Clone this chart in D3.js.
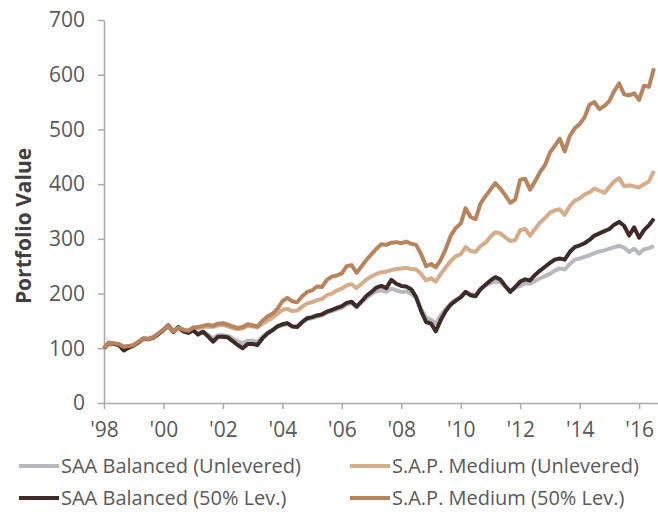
<!DOCTYPE html>
<html>
<head>
<meta charset="utf-8">
<script src="https://cdn.jsdelivr.net/npm/d3@7"></script>
<style>
  body { margin: 0; background: #fff; }
  svg { display: block; }
</style>
</head>
<body>
<div id="chart"></div>
<script>

// one value every 2 months, Jan 1998 .. Jul 2016
const startMonth = new Date(1998, 0, 1);
const stepMonths = 2;

const saaUnlevered = [
  100, 109, 108, 107, 100, 103,
  106, 111, 117, 116, 120, 126,
  133, 140, 130, 137, 131, 129,
  132, 127, 131, 125, 118, 124,
  124, 123, 118, 113, 109, 114,
  114, 112, 121, 128, 133, 139,
  142, 144, 140, 140, 147, 153,
  155, 158, 160, 165, 168, 171,
  174, 180, 182, 175, 184, 192,
  199, 204, 206, 203, 209, 206,
  203, 204, 200, 192, 172, 156,
  152, 146, 160, 172, 182, 189,
  195, 203, 199, 198, 209, 215,
  219, 222, 221, 213, 205, 211,
  214, 219, 218, 223, 228, 232,
  236, 242, 246, 244, 254, 262,
  264, 267, 270, 274, 277, 279,
  282, 285, 287, 284, 276, 282,
  273, 281, 283, 287
];

const sapUnlevered = [
  100, 109, 108, 107, 103, 104,
  106, 111, 117, 116, 120, 126,
  133, 140, 131, 137, 133, 131,
  136, 137, 139, 140, 139, 142,
  143, 140, 137, 135, 136, 141,
  140, 138, 145, 150, 156, 163,
  170, 172, 168, 169, 176, 182,
  184, 188, 190, 197, 200, 206,
  209, 215, 217, 210, 218, 226,
  231, 236, 239, 240, 243, 245,
  246, 247, 245, 244, 236, 224,
  228, 222, 236, 248, 260, 268,
  272, 285, 278, 276, 287, 293,
  304, 312, 310, 303, 296, 298,
  316, 318, 306, 318, 330, 338,
  348, 352, 354, 344, 360, 370,
  374, 381, 385, 392, 388, 384,
  395, 405, 411, 396, 398, 396,
  394, 400, 405, 424
];

const saaLevered = [
  100, 110, 108, 106, 96, 101,
  105, 111, 118, 117, 120, 126,
  134, 142, 130, 139, 131, 128,
  133, 125, 130, 122, 112, 121,
  121, 120, 113, 106, 100, 108,
  108, 106, 118, 127, 133, 140,
  144, 146, 140, 139, 148, 155,
  157, 160, 162, 167, 170, 174,
  177, 183, 185, 176, 186, 196,
  203, 211, 214, 210, 225, 218,
  214, 213, 208, 194, 168, 148,
  145, 131, 152, 168, 180, 187,
  193, 203, 197, 195, 208, 216,
  224, 230, 226, 214, 203, 212,
  222, 226, 224, 234, 242, 249,
  256, 262, 264, 262, 276, 285,
  288, 292, 298, 306, 310, 314,
  318, 326, 331, 324, 306, 321,
  302, 316, 325, 337
];

const sapLevered = [
  100, 110, 109, 108, 103, 104,
  106, 112, 118, 117, 121, 127,
  134, 141, 131, 138, 134, 132,
  138, 139, 141, 143, 141, 145,
  146, 143, 140, 137, 139, 144,
  142, 140, 150, 158, 163, 172,
  186, 192, 186, 184, 195, 203,
  206, 213, 212, 225, 231, 233,
  237, 250, 252, 238, 250, 262,
  272, 282, 290, 289, 293, 294,
  292, 295, 291, 289, 272, 250,
  254, 248, 262, 282, 306, 320,
  328, 356, 340, 336, 365, 378,
  390, 402, 392, 380, 366, 372,
  408, 410, 390, 405, 422, 435,
  458, 470, 483, 460, 488, 502,
  510, 522, 545, 550, 537, 543,
  552, 570, 584, 564, 562, 566,
  554, 580, 578, 612
];

const seriesNames = [
  'SAA Balanced (Unlevered)',
  'S.A.P. Medium (Unlevered)',
  'SAA Balanced (50% Lev.)',
  'S.A.P. Medium (50% Lev.)'
];
const seriesValues = [saaUnlevered, sapUnlevered, saaLevered, sapLevered];
const seriesColors = ['#b7b9bc', '#d5ad8b', '#3e2a26', '#b8845d'];

const xTickYears = [1998, 2000, 2002, 2004, 2006, 2008, 2010, 2012, 2014, 2016];
const xTickLabels = ["'98", "'00", "'02", "'04", "'06", "'08", "'10", "'12", "'14", "'16"];
const yTicks = [0, 100, 200, 300, 400, 500, 600, 700];

const width = 658;
const height = 512;
const axisColor = '#a7a9ad';
const textColor = '#595959';
const font = "'Open Sans', sans-serif";

const svg = d3.select('#chart')
  .append('svg')
  .attr('width', width)
  .attr('height', height);

const x = d3.scaleTime()
  .domain([new Date(1998, 0, 1), new Date(2016, 7, 20)])
  .range([104, 658]);

const y = d3.scaleLinear()
  .domain([0, 700])
  .range([403, 20]);

//Axes
const yAxis = svg.append('g')
  .attr('transform', 'translate(104,0)')
  .call(d3.axisLeft(y).tickValues(yTicks).tickSize(6).tickSizeOuter(0).tickPadding(13));

const xAxis = svg.append('g')
  .attr('transform', 'translate(0,403)')
  .call(d3.axisBottom(x)
    .tickValues(xTickYears.map(yr => new Date(yr, 0, 1)))
    .tickFormat((_, i) => xTickLabels[i])
    .tickSize(6).tickSizeOuter(0).tickPadding(13));

[xAxis, yAxis].forEach(g => {
  g.selectAll('path, line')
    .attr('stroke', axisColor)
    .attr('stroke-width', 1.5);
  g.selectAll('text')
    .attr('fill', textColor)
    .attr('font-family', font)
    .attr('font-size', '21px');
});

svg.append('text')
  .attr('transform', 'translate(31,226) rotate(-90)')
  .attr('text-anchor', 'middle')
  .attr('font-family', font)
  .attr('font-weight', 700)
  .attr('font-size', '21px')
  .attr('fill', '#404040')
  .text('Portfolio Value');

//Lines
const line = d3.line()
  .x((_, i) => x(d3.timeMonth.offset(startMonth, i * stepMonths)))
  .y(d => y(d));

svg.append('g')
  .selectAll('path')
  .data(seriesValues)
  .enter()
  .append('path')
  .attr('fill', 'none')
  .attr('stroke', (_, i) => seriesColors[i])
  .attr('stroke-width', 4)
  .attr('stroke-linejoin', 'round')
  .attr('d', d => line(d));

//Legend
const legendX = [19, 350];
const legendY = [466, 498];

const legend = svg.append('g')
  .selectAll('g')
  .data(seriesNames)
  .enter()
  .append('g')
  .attr('transform', (_, i) => `translate(${legendX[i % 2]},${legendY[Math.floor(i / 2)]})`);

legend.append('line')
  .attr('x1', 0)
  .attr('x2', 40)
  .attr('stroke', (_, i) => seriesColors[i])
  .attr('stroke-width', 4);

legend.append('text')
  .attr('x', 42)
  .attr('dy', '0.35em')
  .attr('font-family', font)
  .attr('font-size', '20px')
  .attr('fill', textColor)
  .text(d => d);

</script>
</body>
</html>
